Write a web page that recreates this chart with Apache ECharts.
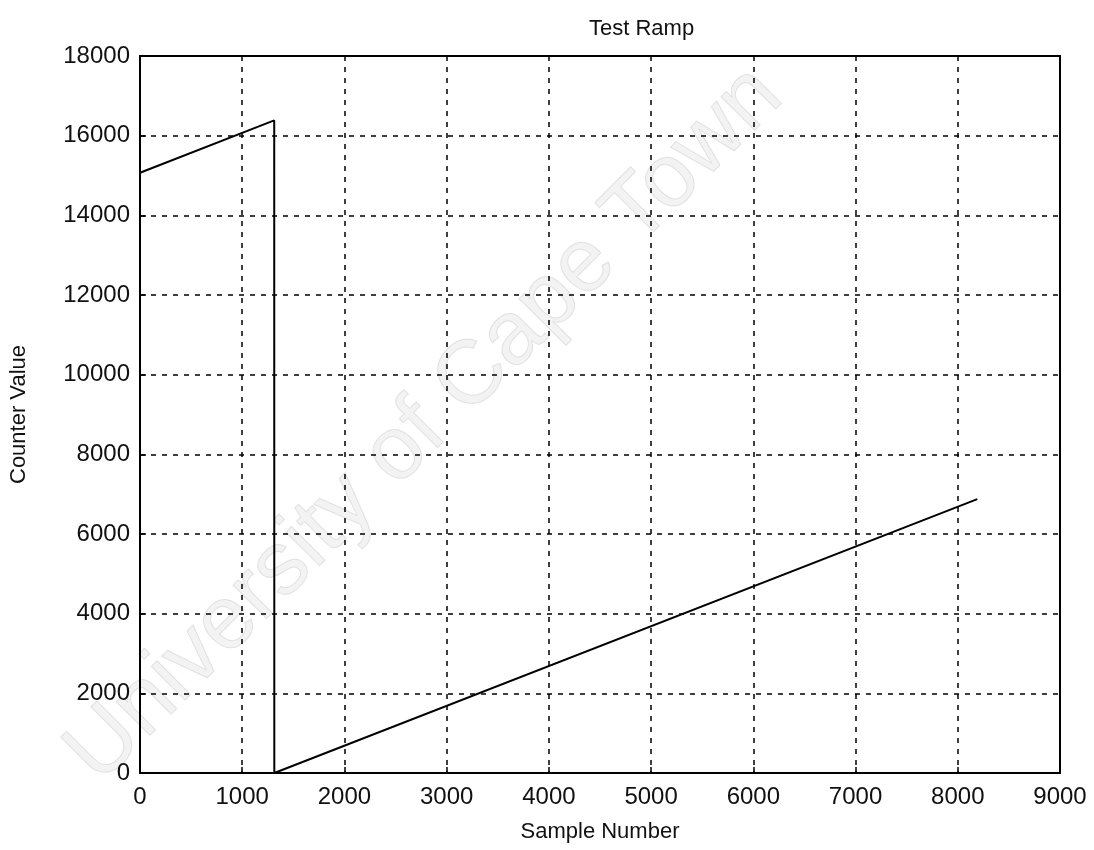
<!DOCTYPE html>
<html>
<head>
<meta charset="utf-8">
<script src="https://cdn.jsdelivr.net/npm/echarts@6/dist/echarts.min.js"></script>
<style>html,body{margin:0;padding:0;background:#fff;}#c{width:1094px;height:850px;}</style>
</head>
<body>
<div id="c"></div>
<script>
var sampleNumbers = [0, 1313, 1314, 8191];
var counterValues = [15070, 16383, 0, 6877];
var xTicks = [0, 1000, 2000, 3000, 4000, 5000, 6000, 7000, 8000, 9000];
var yTicks = [0, 2000, 4000, 6000, 8000, 10000, 12000, 14000, 16000, 18000];
var titleText = 'Test Ramp';
var xName = 'Sample Number';
var yName = 'Counter Value';
var watermark = 'University of Cape Town';

var chart = echarts.init(document.getElementById('c'), null, {renderer: 'canvas'});
var FONT = 'Liberation Sans, Arial, sans-serif';
var pts = sampleNumbers.map(function (x, i) { return [x, counterValues[i]]; });
var gridLine = {show: true, lineStyle: {color: '#000', type: [5, 6], width: 1.5}};
function plain(v) { return String(v); }
chart.setOption({
  backgroundColor: '#fff',
  animation: false,
  title: {text: titleText, left: 584, top: 13, textStyle: {fontFamily: FONT, fontSize: 22, fontWeight: 'normal', color: '#111'}},
  grid: {left: 135, right: 34, top: 56, bottom: 77, show: true, borderColor: '#000', borderWidth: 2, backgroundColor: 'transparent'},
  xAxis: {
    type: 'value', min: xTicks[0], max: xTicks[xTicks.length - 1], interval: 1000,
    name: xName, nameLocation: 'middle', nameGap: 48,
    nameTextStyle: {fontFamily: FONT, fontSize: 22, color: '#111'},
    axisLine: {show: true, lineStyle: {color: '#000', width: 2}},
    axisTick: {show: true, inside: true, length: 6, lineStyle: {color: '#000', width: 1.5}},
    axisLabel: {fontFamily: FONT, fontSize: 24, color: '#111', margin: 12, formatter: plain},
    splitLine: gridLine
  },
  yAxis: {
    type: 'value', min: yTicks[0], max: yTicks[yTicks.length - 1], interval: 2000,
    name: yName, nameLocation: 'middle', nameGap: 110, nameRotate: 90,
    nameTextStyle: {fontFamily: FONT, fontSize: 22, color: '#111'},
    axisLine: {show: true, lineStyle: {color: '#000', width: 2}},
    axisTick: {show: true, inside: true, length: 6, lineStyle: {color: '#000', width: 1.5}},
    axisLabel: {fontFamily: FONT, fontSize: 24, color: '#111', margin: 10, formatter: plain},
    splitLine: gridLine
  },
  graphic: [{
    type: 'text', silent: true, z: -10,
    x: 425, y: 425, rotation: Math.PI / 4,
    style: {text: watermark, fontFamily: FONT, fontSize: 90, fill: 'rgba(200,200,200,0.22)', stroke: 'rgba(180,180,180,0.35)', lineWidth: 1, textAlign: 'center', textVerticalAlign: 'middle'}
  }],
  series: [{
    type: 'line', data: pts, showSymbol: false, symbol: 'none',
    lineStyle: {color: '#000', width: 2}, z: 5
  }]
});
</script>
</body>
</html>
